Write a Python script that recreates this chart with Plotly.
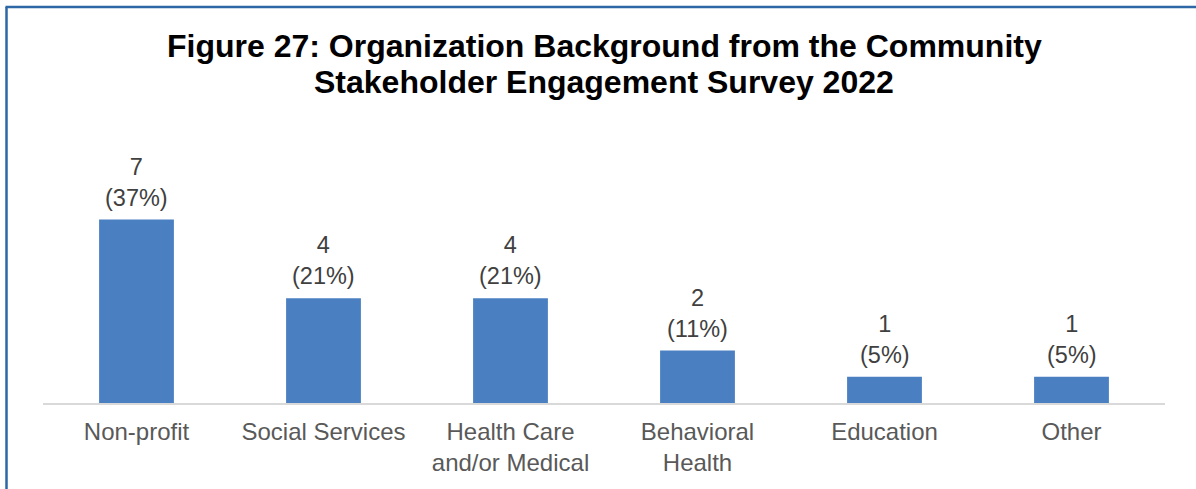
import plotly.graph_objects as go

# Survey responses by organization background
categories = ["Non-profit", "Social Services", "Health Care<br>and/or Medical",
              "Behavioral<br>Health", "Education", "Other"]
counts = [7, 4, 4, 2, 1, 1]
percents = [37, 21, 21, 11, 5, 5]
title_lines = ["Figure 27: Organization Background from the Community",
               "Stakeholder Engagement Survey 2022"]

labels = [f"{c}<br>({p}%)" for c, p in zip(counts, percents)]

W, H = 1196, 489
L, R, T, B = 43, 31, 141, 86
plot_w = W - L - R
plot_h = H - T - B
FONT = "Liberation Sans, Arial, sans-serif"


def px_to_paper_x(px):
    return (px - L) / plot_w


def px_to_paper_y(py):
    return (H - B - py) / plot_h


fig = go.Figure(
    go.Bar(
        x=categories,
        y=counts,
        marker=dict(color="#4a7fc1", line=dict(width=0)),
        width=0.4,
        hoverinfo="x+y",
    )
)

# Count and share labels above each bar
for cat, val, lab in zip(categories, counts, labels):
    fig.add_annotation(
        x=cat, y=val, xref="x", yref="y",
        text=lab, showarrow=False,
        yanchor="bottom", yshift=7,
        font=dict(family=FONT, size=23.5, color="#404040"),
    )

# Frame on the left and top edges
border_color = "#2e67a5"
fig.add_shape(type="line", xref="paper", yref="paper",
              x0=px_to_paper_x(6.5), x1=px_to_paper_x(6.5),
              y0=px_to_paper_y(495), y1=px_to_paper_y(7),
              line=dict(color=border_color, width=2.5))
fig.add_shape(type="line", xref="paper", yref="paper",
              x0=px_to_paper_x(5.5), x1=px_to_paper_x(1205),
              y0=px_to_paper_y(7), y1=px_to_paper_y(7),
              line=dict(color=border_color, width=2.5))

# Two-line bold title
for line, center_px in zip(title_lines, [46, 82]):
    fig.add_annotation(
        text=line, xref="paper", yref="paper",
        x=0.5, xanchor="center",
        y=px_to_paper_y(center_px), yanchor="middle",
        showarrow=False,
        font=dict(family=FONT, size=32, color="#000000", weight="bold"),
    )

fig.update_layout(
    width=W,
    height=H,
    margin=dict(l=L, r=R, t=T, b=B),
    paper_bgcolor="white",
    plot_bgcolor="white",
    showlegend=False,
    xaxis=dict(
        showline=True,
        linecolor="#d9d9d9",
        linewidth=2,
        ticks="",
        showgrid=False,
        ticklabelstandoff=6,
        tickfont=dict(family=FONT, size=24, color="#595959"),
    ),
    yaxis=dict(
        range=[0, 10],
        visible=False,
        showgrid=False,
        zeroline=False,
    ),
)

fig.write_html("out.html")
